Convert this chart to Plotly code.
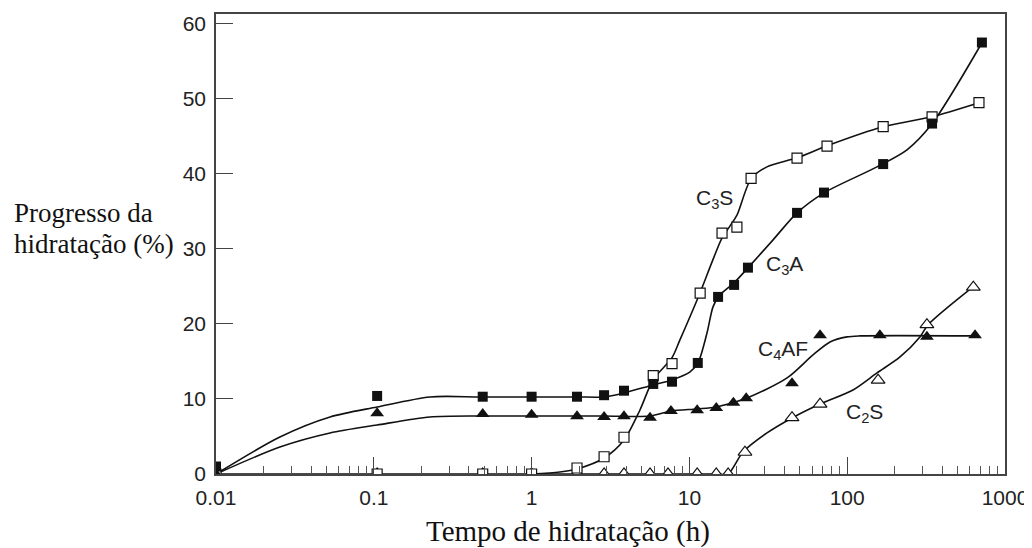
import math
import plotly.graph_objects as go

# ---------------- data ----------------
# measured points
c3s_t = [0.01, 0.105, 0.49, 1.0, 1.94, 2.88, 3.85, 5.9, 7.76, 11.7, 16.1, 20.0, 24.6, 48.1, 74.5, 169, 345, 684]
c3s_v = [0, 0, 0, 0, 0.8, 2.3, 4.9, 13.1, 14.7, 24.1, 32.1, 32.9, 39.4, 42.1, 43.7, 46.3, 47.6, 49.5]

c3a_t = [0.01, 0.105, 0.49, 1.0, 1.94, 2.88, 3.85, 5.9, 7.76, 11.3, 15.2, 19.2, 23.5, 48.1, 71.3, 169, 345, 714]
c3a_v = [1.0, 10.4, 10.3, 10.3, 10.3, 10.5, 11.1, 12.0, 12.3, 14.8, 23.6, 25.2, 27.5, 34.8, 37.5, 41.3, 46.7, 57.5]

c4af_t = [0.01, 0.105, 0.49, 1.0, 1.94, 2.88, 3.85, 5.63, 7.64, 11.2, 14.8, 19.0, 22.9, 44.7, 67.3, 161, 320, 646]
c4af_v = [0, 8.1, 8.0, 7.9, 7.7, 7.6, 7.7, 7.5, 8.4, 8.5, 8.8, 9.5, 10.1, 12.1, 18.5, 18.5, 18.3, 18.5]

c2s_t = [0.01, 0.105, 0.49, 1.0, 1.94, 2.88, 3.85, 5.63, 7.32, 11.2, 14.8, 17.6, 22.5, 44.7, 67.3, 157, 320, 630]
c2s_v = [0, 0, 0, 0, 0, 0, 0, 0, 0, 0, 0, 0, 2.9, 7.5, 9.3, 12.5, 19.9, 24.9]

# fitted curves (knots)
c3s_curve_t = [1.0, 1.51, 1.94, 2.88, 3.85, 4.86, 5.88, 7.76, 8.71, 11.67, 13.92, 16.11, 18.11, 20.05, 24.57, 31.0, 48.1, 74.5, 168.6, 344.6, 684.6]
c3s_curve_v = [0, 0.27, 0.67, 2.13, 4.53, 8.53, 12.53, 15.5, 17.87, 24.13, 28.27, 31.47, 33.07, 34.53, 39.33, 40.93, 42.13, 43.73, 46.27, 47.6, 49.47]

c3a_curve_t = [0.01, 0.0254, 0.0528, 0.1048, 0.227, 0.471, 1.0, 1.94, 2.88, 3.85, 5.88, 7.76, 10.1, 11.33, 12.93, 14.11, 15.4, 19.17, 23.5, 33.9, 48.1, 71.3, 154.5, 239.3, 344.6, 714.5]
c3a_curve_v = [0, 4.93, 7.6, 8.93, 10.27, 10.27, 10.27, 10.27, 10.27, 10.8, 11.87, 12.53, 13.6, 14.8, 18.8, 22.27, 23.73, 25.47, 27.47, 31.2, 34.8, 37.47, 40.93, 43.2, 46.67, 57.47]

c4af_curve_t = [0.01, 0.0254, 0.0528, 0.1048, 0.227, 0.471, 1.0, 2.88, 5.63, 7.64, 11.17, 14.8, 23.2, 41.6, 60.7, 77.8, 99.7, 120.5, 674]
c4af_curve_v = [0, 3.6, 5.47, 6.53, 7.6, 7.73, 7.73, 7.73, 7.73, 8.4, 8.67, 8.93, 10.13, 12.8, 15.87, 17.6, 18.27, 18.4, 18.4]

c2s_curve_t = [0.01, 1.0, 10.0, 15.0, 17.56, 21.86, 31.03, 44.7, 67.3, 108.8, 154.5, 216.1, 289, 325, 627]
c2s_curve_v = [0, 0, 0, 0, 0, 2.93, 5.47, 7.47, 9.33, 11.2, 13.47, 15.6, 18.27, 19.87, 24.93]

# curve labels
label_text = ["C<sub>3</sub>S", "C<sub>3</sub>A", "C<sub>4</sub>AF", "C<sub>2</sub>S"]
label_t = [14.5, 39.8, 39.2, 127.8]
label_v = [36.6, 27.9, 16.5, 8.1]

x_tick_vals = [0.01, 0.1, 1, 10, 100, 1000]
x_tick_text = ["0.01", "0.1", "1", "10", "100", "1000"]
y_tick_vals = [0, 10, 20, 30, 40, 50, 60]

y_title_lines = ["Progresso da", "hidratação (%)"]
x_title = "Tempo de hidratação (h)"

# ---------------- figure ----------------
fig = go.Figure()

LINE = dict(color="#111111", width=1.6)
for ct, cv in [(c2s_curve_t, c2s_curve_v), (c4af_curve_t, c4af_curve_v),
               (c3a_curve_t, c3a_curve_v), (c3s_curve_t, c3s_curve_v)]:
    fig.add_trace(go.Scatter(x=ct, y=cv, mode="lines", line=dict(shape="spline", smoothing=0.8, **LINE),
                             hoverinfo="skip", showlegend=False))

fig.add_trace(go.Scatter(x=c2s_t, y=c2s_v, mode="markers", name="C2S",
                         marker=dict(symbol="triangle-up", size=12, color="white",
                                     line=dict(color="#111111", width=1.2)), showlegend=False))
fig.add_trace(go.Scatter(x=c3s_t, y=c3s_v, mode="markers", name="C3S",
                         marker=dict(symbol="square", size=10, color="white",
                                     line=dict(color="#111111", width=1.2)), showlegend=False))
fig.add_trace(go.Scatter(x=c4af_t, y=c4af_v, mode="markers", name="C4AF",
                         marker=dict(symbol="triangle-up", size=12, color="#111111",
                                     line=dict(color="#111111", width=0)), showlegend=False))
fig.add_trace(go.Scatter(x=c3a_t, y=c3a_v, mode="markers", name="C3A",
                         marker=dict(symbol="square", size=10, color="#111111",
                                     line=dict(color="#111111", width=0)), showlegend=False))

for txt, t, v in zip(label_text, label_t, label_v):
    fig.add_annotation(x=math.log10(t), y=v, xref="x", yref="y", text=txt, showarrow=False,
                       font=dict(family="Liberation Sans", size=21, color="#222222"),
                       xanchor="center", yanchor="middle")

# axis titles
fig.add_annotation(x=-0.2586, y=0.567, xref="paper", yref="paper", text=y_title_lines[0],
                   showarrow=False, xanchor="left", yanchor="middle",
                   font=dict(family="Liberation Serif", size=27, color="#111111"))
fig.add_annotation(x=-0.2586, y=0.50, xref="paper", yref="paper", text=y_title_lines[1],
                   showarrow=False, xanchor="left", yanchor="middle",
                   font=dict(family="Liberation Serif", size=27, color="#111111"))
fig.add_annotation(x=0.446, y=-0.124, xref="paper", yref="paper", text=x_title,
                   showarrow=False, xanchor="center", yanchor="middle",
                   font=dict(family="Liberation Serif", size=29, color="#111111"))

minor_vals = [m * 10 ** d for d in range(-2, 3) for m in range(2, 10)]

fig.update_xaxes(type="log", range=[-2, 3], tickvals=x_tick_vals, ticktext=x_tick_text,
                 ticks="inside", ticklen=17, tickwidth=1.3, tickcolor="#444444",
                 showline=True, mirror=True, linecolor="#444444", linewidth=1.6,
                 showgrid=False, zeroline=False, automargin=False,
                 tickfont=dict(family="Liberation Sans", size=21, color="#222222"),
                 ticklabelstandoff=4,
                 minor=dict(tickvals=minor_vals, ticks="inside", ticklen=8, tickwidth=1,
                            tickcolor="#555555", showgrid=False))
fig.update_yaxes(range=[0, 61.3], tickvals=y_tick_vals, ticks="inside", ticklen=17, tickwidth=1.3,
                 tickcolor="#444444", showline=True, mirror=True, linecolor="#444444", linewidth=1.6,
                 showgrid=False, zeroline=False, automargin=False,
                 tickfont=dict(family="Liberation Sans", size=21, color="#222222"),
                 ticklabelstandoff=4)

# the page body adds an 8 px margin, so the figure is 8 px smaller and shifted
fig.update_layout(width=1024, height=540, margin=dict(l=208, r=27, t=6, b=74),
                  paper_bgcolor="white", plot_bgcolor="white", showlegend=False)

fig.write_html("out.html")
